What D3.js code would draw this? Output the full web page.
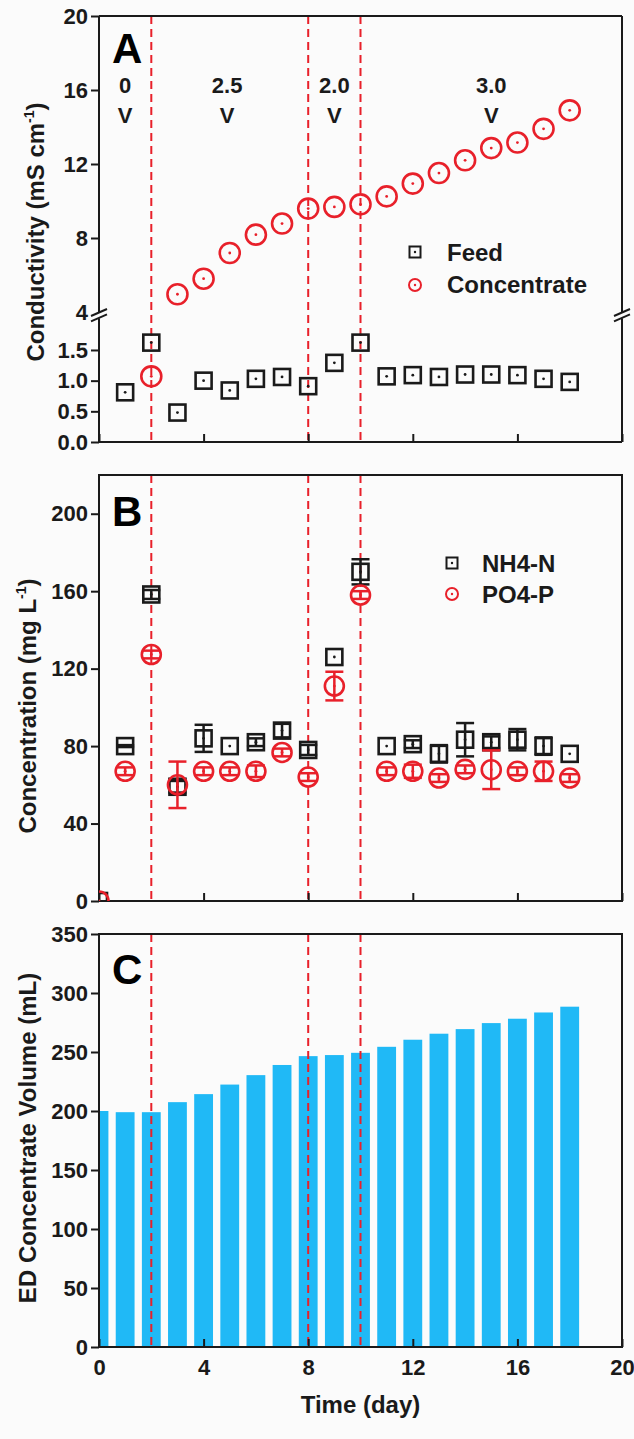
<!DOCTYPE html>
<html><head><meta charset="utf-8">
<script src="https://cdn.jsdelivr.net/npm/d3@7"></script>
<style>body{margin:0;background:#fbfbfb}svg{display:block}</style>
</head><body>
<svg id="c" width="634" height="1439"></svg>
<script>
// ---------------- data ----------------
const dividerDays = [2, 8, 10];
const voltLabels = ["0", "2.5", "2.0", "3.0"];
const voltDays = [1, 4.9, 9, 15];

const feedDays = [1,2,3,4,5,6,7,8,9,10,11,12,13,14,15,16,17,18];
const feedCond = [0.81,1.62,0.48,1.00,0.84,1.03,1.06,0.91,1.29,1.62,1.07,1.09,1.06,1.10,1.10,1.09,1.03,0.98];
const concDays = [2,3,4,5,6,7,8,9,10,11,12,13,14,15,16,17,18];
const concCond = [1.07,4.96,5.8,7.19,8.18,8.78,9.59,9.68,9.82,10.25,10.94,11.51,12.2,12.86,13.16,13.9,14.9];

const nutDays = [0,1,2,3,4,5,6,7,8,9,10,11,12,13,14,15,16,17,18];
const nh4 = [0,80,158.3,59,84,80,82,88,78,126,170,80,81,76,83.3,82,83.3,80,76];
const nh4Err = [0,0.5,2.3,3,7,0,2,3.5,2.6,0,6.5,0,2,4.5,8.6,3,5.5,4.5,0];
const po4 = [0,67,127.3,60,67,67,67,76.7,64,111,158,67,67,63.5,68,67.8,67,67,63.5];
const po4Err = [0,2,2,12,2,2,3,2,2,7.4,2,2,3.4,2,2,10,2,5,2];

const volDays = [0,1,2,3,4,5,6,7,8,9,10,11,12,13,14,15,16,17,18];
const volume = [200,199,199,207.5,214.3,222.4,230.4,239,246.5,247.4,249.3,254.4,260.4,265.5,269.4,274.5,278.2,283.5,288.4];

const xTicks = [0,4,8,12,16,20];
const yTicksAUpper = [4,8,12,16,20];
const yTicksALower = [0,0.5,1.0,1.5];
const yTicksB = [0,40,80,120,160,200];
const yTicksC = [0,50,100,150,200,250,300,350];

// ---------------- layout ----------------
const RED = "#e8202a", BLK = "#1a1a1a", BLUE = "#20b9f6";
const FONT = "'Liberation Sans', Arial, sans-serif";
const svg = d3.select("#c").attr("font-family", FONT);
const xL = 99, xR = 622;
const x = d3.scaleLinear().domain([0, 20]).range([xL, xR]);

const A = {top: 16, bottom: 442};
const yAU = d3.scaleLinear().domain([4, 20]).range([312, A.top]);
const yAL = d3.scaleLinear().domain([0, 2]).range([A.bottom, 319.3]);
const B = {top: 475, bottom: 901};
const yB = d3.scaleLinear().domain([0, 220]).range([B.bottom, B.top]);
const C = {top: 934, bottom: 1347};
const yC = d3.scaleLinear().domain([0, 350]).range([C.bottom, C.top]);

const defs = svg.append("defs");
function clip(id, p) {
  defs.append("clipPath").attr("id", id).append("rect")
    .attr("x", xL).attr("y", p.top).attr("width", xR - xL).attr("height", p.bottom - p.top);
  return "url(#" + id + ")";
}
const clipA = clip("ca", A), clipB = clip("cb", B), clipC = clip("cc", C);

function styleAxis(g, size) {
  g.select(".domain").remove();
  g.selectAll(".tick line").attr("stroke", BLK).attr("stroke-width", 2);
  g.selectAll(".tick text").attr("fill", BLK).attr("font-size", size || 22)
    .attr("font-weight", "bold").attr("font-family", FONT);
}
function yAxis(scale, ticks, fmt) {
  const g = svg.append("g").attr("transform", `translate(${xL},0)`)
    .call(d3.axisLeft(scale).tickValues(ticks).tickSize(8).tickPadding(3).tickFormat(fmt));
  styleAxis(g);
  return g;
}
function xAxis(yPos, labels) {
  const g = svg.append("g").attr("transform", `translate(0,${yPos})`)
    .call(d3.axisBottom(x).tickValues(xTicks).tickSizeInner(-8).tickSizeOuter(0).tickPadding(12)
      .tickFormat(labels ? d3.format("d") : () => ""));
  styleAxis(g);
  return g;
}
function dividers(p, cp) {
  svg.append("g").attr("clip-path", cp).selectAll("line").data(dividerDays).join("line")
    .attr("x1", d => x(d)).attr("x2", d => x(d)).attr("y1", p.top).attr("y2", p.bottom)
    .attr("stroke", RED).attr("stroke-width", 2).attr("stroke-dasharray", "8,5");
}
function frame(p) {
  svg.append("rect").attr("x", xL).attr("y", p.top).attr("width", xR - xL).attr("height", p.bottom - p.top)
    .attr("fill", "none").attr("stroke", BLK).attr("stroke-width", 2);
}
function letter(t, yb) {
  svg.append("text").attr("x", 112).attr("y", yb).text(t)
    .attr("font-size", 42).attr("font-weight", "bold").attr("fill", "#000");
}
function yTitle(cx, cy, main, sup, tail) {
  const t = svg.append("text").attr("transform", `translate(${cx},${cy}) rotate(-90)`)
    .attr("text-anchor", "middle").attr("dy", "0.36em")
    .attr("font-size", 24).attr("font-weight", "bold").attr("fill", BLK);
  t.append("tspan").text(main);
  if (sup) {
    t.append("tspan").text(sup).attr("font-size", 14).attr("dy", -10);
    t.append("tspan").text(tail).attr("dy", 10);
  }
}
function squares(g, xs, ys, yScale, s, sw) {
  const sel = g.selectAll(null).data(xs.map((d, i) => [d, ys[i]])).join("g")
    .attr("transform", d => `translate(${x(d[0])},${yScale(d[1])})`);
  sel.append("rect").attr("x", -s / 2).attr("y", -s / 2).attr("width", s).attr("height", s)
    .attr("fill", "none").attr("stroke", BLK).attr("stroke-width", sw);
  sel.append("circle").attr("r", 1.4).attr("fill", BLK);
}
function circles(g, xs, ys, yScale, r, sw) {
  const sel = g.selectAll(null).data(xs.map((d, i) => [d, ys[i]])).join("g")
    .attr("transform", d => `translate(${x(d[0])},${yScale(d[1])})`);
  sel.append("circle").attr("r", r).attr("fill", "none").attr("stroke", RED).attr("stroke-width", sw);
  sel.append("circle").attr("r", 1.4).attr("fill", RED);
}
function errBars(g, xs, ys, es, yScale, color) {
  const data = xs.map((d, i) => [d, ys[i], es[i]]).filter(d => d[2] > 0);
  const sel = g.selectAll(null).data(data).join("g");
  sel.append("line").attr("x1", d => x(d[0])).attr("x2", d => x(d[0]))
    .attr("y1", d => yScale(d[1] - d[2])).attr("y2", d => yScale(d[1] + d[2]))
    .attr("stroke", color).attr("stroke-width", 2.5);
  [-1, 1].forEach(s => sel.append("line")
    .attr("x1", d => x(d[0]) - 9).attr("x2", d => x(d[0]) + 9)
    .attr("y1", d => yScale(d[1] + s * d[2])).attr("y2", d => yScale(d[1] + s * d[2]))
    .attr("stroke", color).attr("stroke-width", 2.5));
}

// ---------------- Panel A ----------------
dividers(A, clipA);
{
  const yb1 = 312, yb2 = 319.3;
  const fr = svg.append("g").attr("stroke", BLK).attr("stroke-width", 2).attr("fill", "none");
  fr.append("line").attr("x1", xL).attr("x2", xR).attr("y1", A.top).attr("y2", A.top);
  fr.append("line").attr("x1", xL).attr("x2", xR).attr("y1", A.bottom).attr("y2", A.bottom);
  [xL, xR].forEach(xx => {
    fr.append("line").attr("x1", xx).attr("x2", xx).attr("y1", A.top).attr("y2", yb1 + 1);
    fr.append("line").attr("x1", xx).attr("x2", xx).attr("y1", yb2 - 1).attr("y2", A.bottom);
    fr.append("line").attr("x1", xx - 8).attr("x2", xx + 8).attr("y1", yb1 + 4).attr("y2", yb1 - 3);
    fr.append("line").attr("x1", xx - 8).attr("x2", xx + 8).attr("y1", yb2 + 2).attr("y2", yb2 - 5);
  });
  const ga = yAxis(yAU, yTicksAUpper, d3.format("d"));
  ga.selectAll(".tick").filter(d => d === 4).select("line").remove();
  yAxis(yAL, yTicksALower, d3.format(".1f"));
  xAxis(A.bottom, false);

  const gp = svg.append("g").attr("clip-path", clipA);
  squares(gp, feedDays, feedCond, yAL, 16, 2.6);
  const lowIdx = concCond.map((v, i) => i).filter(i => concCond[i] < 2);
  const upIdx = concCond.map((v, i) => i).filter(i => concCond[i] >= 4);
  circles(gp, lowIdx.map(i => concDays[i]), lowIdx.map(i => concCond[i]), yAL, 10, 2.6);
  circles(gp, upIdx.map(i => concDays[i]), upIdx.map(i => concCond[i]), yAU, 10, 2.6);

  const vl = svg.append("g").attr("font-size", 22).attr("font-weight", "bold").attr("fill", BLK).attr("text-anchor", "middle");
  voltLabels.forEach((t, i) => {
    vl.append("text").attr("x", x(voltDays[i])).attr("y", 93).text(t);
    vl.append("text").attr("x", x(voltDays[i])).attr("y", 123).text("V");
  });
  letter("A", 63);
  const lg = svg.append("g");
  lg.append("rect").attr("x", 415 - 5.5).attr("y", 252 - 5.5).attr("width", 11).attr("height", 11)
    .attr("fill", "none").attr("stroke", BLK).attr("stroke-width", 2);
  lg.append("circle").attr("cx", 415).attr("cy", 252).attr("r", 1.2).attr("fill", BLK);
  lg.append("circle").attr("cx", 415).attr("cy", 285).attr("r", 6).attr("fill", "none").attr("stroke", RED).attr("stroke-width", 2);
  lg.append("circle").attr("cx", 415).attr("cy", 285).attr("r", 1.2).attr("fill", RED);
  lg.append("text").attr("x", 447).attr("y", 261).text("Feed").attr("font-size", 24).attr("font-weight", "bold").attr("fill", BLK);
  lg.append("text").attr("x", 447).attr("y", 293).text("Concentrate").attr("font-size", 24).attr("font-weight", "bold").attr("fill", BLK);
  yTitle(35, 232, "Conductivity (mS cm", "-1", ")");
}

// ---------------- Panel B ----------------
dividers(B, clipB);
frame(B);
yAxis(yB, yTicksB, d3.format("d"));
xAxis(B.bottom, false);
{
  const gp = svg.append("g").attr("clip-path", clipB);
  errBars(gp, nutDays, nh4, nh4Err, yB, BLK);
  squares(gp, nutDays, nh4, yB, 16, 2.6);
  errBars(gp, nutDays, po4, po4Err, yB, RED);
  circles(gp, nutDays, po4, yB, 9.5, 2.6);
  letter("B", 526);
  const lg = svg.append("g");
  lg.append("rect").attr("x", 452 - 5.5).attr("y", 563 - 5.5).attr("width", 11).attr("height", 11)
    .attr("fill", "none").attr("stroke", BLK).attr("stroke-width", 2);
  lg.append("circle").attr("cx", 452).attr("cy", 563).attr("r", 1.2).attr("fill", BLK);
  lg.append("circle").attr("cx", 452).attr("cy", 594).attr("r", 6).attr("fill", "none").attr("stroke", RED).attr("stroke-width", 2);
  lg.append("circle").attr("cx", 452).attr("cy", 594).attr("r", 1.2).attr("fill", RED);
  lg.append("text").attr("x", 482).attr("y", 572).text("NH4-N").attr("font-size", 24).attr("font-weight", "bold").attr("fill", BLK);
  lg.append("text").attr("x", 482).attr("y", 603).text("PO4-P").attr("font-size", 24).attr("font-weight", "bold").attr("fill", BLK);
  yTitle(27.5, 706, "Concentration (mg L", "-1", ")");
}

// ---------------- Panel C ----------------
{
  const bw = 0.72;
  svg.append("g").attr("clip-path", clipC).selectAll("rect")
    .data(volDays.map((d, i) => [d, volume[i]])).join("rect")
    .attr("x", d => x(d[0] - bw / 2)).attr("width", d => x(bw) - x(0))
    .attr("y", d => yC(d[1])).attr("height", d => yC(0) - yC(d[1]))
    .attr("fill", BLUE);
  dividers(C, clipC);
  frame(C);
  yAxis(yC, yTicksC, d3.format("d"));
  xAxis(C.bottom, true);
  letter("C", 984);
  yTitle(27.5, 1138, "ED Concentrate Volume (mL)");
  svg.append("text").attr("x", (xL + xR) / 2).attr("y", 1413).attr("text-anchor", "middle")
    .text("Time (day)").attr("font-size", 24).attr("font-weight", "bold").attr("fill", BLK);
}
</script>
</body></html>
